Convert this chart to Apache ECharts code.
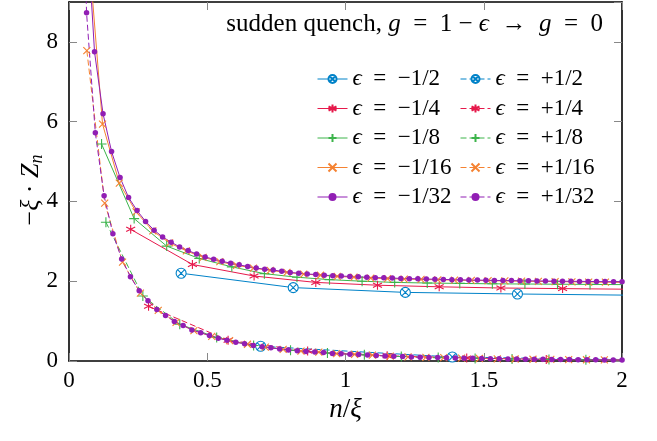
<!DOCTYPE html>
<html><head><meta charset="utf-8">
<script src="https://cdn.jsdelivr.net/npm/echarts@6/dist/echarts.min.js"></script>
<style>html,body{margin:0;padding:0;background:#fff}#c{width:657px;height:441px}</style>
</head><body><div id="c"></div>
<script>
// ---------- data ----------
const xTicks = [0, 0.5, 1, 1.5, 2];
const yTicks = [0, 2, 4, 6, 8];

// eps = -1/2 (solid) / +1/2 (dashed)
const x_m2 = [0.4055, 0.8109, 1.2164, 1.6219, 2.0273];
const y_m2 = [2.2, 1.84, 1.72, 1.68, 1.65];
const x_p2 = [0.6931, 1.3863, 2.0794];
const y_p2 = [0.37, 0.1, 0.03];

// eps = -1/4 / +1/4
const x_m4 = [0.2231, 0.4463, 0.6694, 0.8926, 1.1157, 1.3389, 1.5620, 1.7851, 2.0083];
const y_m4 = [3.3, 2.42, 2.13, 1.97, 1.9, 1.86, 1.83, 1.815, 1.8];
const x_p4 = [0.2877, 0.5754, 0.8630, 1.1507, 1.4384, 1.7261, 2.0137];
const y_p4 = [1.37, 0.52, 0.25, 0.13, 0.075, 0.04, 0.02];

// eps = -1/8 / +1/8
const x_m8 = [0.1178, 0.2356, 0.3533, 0.4711, 0.5889, 0.7067, 0.8245, 0.9422, 1.0600, 1.1778, 1.2956, 1.4133, 1.5311, 1.6489, 1.7667, 1.8845, 2.0022];
const y_m8 = [5.44, 3.57, 2.88, 2.57, 2.36, 2.19, 2.1, 2.04, 2.0, 1.97, 1.955, 1.945, 1.935, 1.93, 1.925, 1.92, 1.915];
const x_p8 = [0.1335, 0.2671, 0.4006, 0.5341, 0.6677, 0.8012, 0.9347, 1.0682, 1.2018, 1.3353, 1.4688, 1.6024, 1.7359, 1.8694, 2.0030];
const y_p8 = [3.48, 1.63, 0.92, 0.59, 0.39, 0.27, 0.2, 0.155, 0.112, 0.085, 0.065, 0.05, 0.04, 0.031, 0.025];

// eps = -1/16 / +1/16
const x_m16 = [0.0606, 0.1213, 0.1819, 0.2425, 0.3031, 0.3638, 0.4244, 0.4850, 0.5456, 0.6063, 0.6669, 0.7275, 0.7881, 0.8488, 0.9094, 0.9700, 1.0306, 1.0913, 1.1519, 1.2125, 1.2731, 1.3338, 1.3944, 1.4550, 1.5156, 1.5763, 1.6369, 1.6975, 1.7581, 1.8188, 1.8794, 1.9400, 2.0006];
const y_m16 = [11.2, 5.94, 4.46, 3.74, 3.26, 2.96, 2.76, 2.6, 2.49, 2.40, 2.33, 2.27, 2.22, 2.18, 2.15, 2.12, 2.10, 2.08, 2.065, 2.055, 2.045, 2.035, 2.028, 2.02, 2.013, 2.007, 2.0, 1.995, 1.99, 1.985, 1.98, 1.975, 1.97];
const x_p16 = [0.0645, 0.1291, 0.1936, 0.2582, 0.3227, 0.3872, 0.4518, 0.5163, 0.5809, 0.6454, 0.7099, 0.7745, 0.8390, 0.9035, 0.9681, 1.0326, 1.0972, 1.1617, 1.2262, 1.2908, 1.3553, 1.4199, 1.4844, 1.5489, 1.6135, 1.6780, 1.7426, 1.8071, 1.8716, 1.9362, 2.0007];
const y_p16 = [7.78, 3.96, 2.48, 1.70, 1.27, 0.97, 0.76, 0.62, 0.51, 0.42, 0.35, 0.29, 0.25, 0.22, 0.185, 0.165, 0.145, 0.122, 0.105, 0.092, 0.082, 0.072, 0.063, 0.056, 0.05, 0.044, 0.039, 0.035, 0.031, 0.028, 0.025];

// eps = -1/32 / +1/32
const x_m32 = [0.0308, 0.0615, 0.0923, 0.1231, 0.1539, 0.1846, 0.2154, 0.2462, 0.2769, 0.3077, 0.3385, 0.3693, 0.4000, 0.4308, 0.4616, 0.4924, 0.5231, 0.5539, 0.5847, 0.6154, 0.6462, 0.6770, 0.7078, 0.7385, 0.7693, 0.8001, 0.8308, 0.8616, 0.8924, 0.9232, 0.9539, 0.9847, 1.0155, 1.0462, 1.0770, 1.1078, 1.1386, 1.1693, 1.2001, 1.2309, 1.2617, 1.2924, 1.3232, 1.3540, 1.3847, 1.4155, 1.4463, 1.4771, 1.5078, 1.5386, 1.5694, 1.6001, 1.6309, 1.6617, 1.6925, 1.7232, 1.7540, 1.7848, 1.8155, 1.8463, 1.8771, 1.9079, 1.9386, 1.9694, 2.0002];
const y_m32 = [20.5, 11.3, 7.75, 6.2, 5.25, 4.6, 4.1, 3.77, 3.5, 3.28, 3.11, 2.98, 2.86, 2.77, 2.68, 2.61, 2.55, 2.5, 2.45, 2.41, 2.37, 2.33, 2.30, 2.28, 2.25, 2.22, 2.20, 2.18, 2.17, 2.15, 2.14, 2.13, 2.12, 2.11, 2.10, 2.09, 2.085, 2.08, 2.07, 2.065, 2.06, 2.055, 2.05, 2.045, 2.04, 2.035, 2.03, 2.028, 2.025, 2.02, 2.018, 2.015, 2.012, 2.01, 2.007, 2.005, 2.002, 2.0, 1.998, 1.996, 1.994, 1.992, 1.99, 1.988, 1.986];
const x_p32 = [0.0317, 0.0635, 0.0952, 0.1270, 0.1587, 0.1905, 0.2222, 0.2540, 0.2857, 0.3175, 0.3492, 0.3810, 0.4127, 0.4445, 0.4762, 0.5080, 0.5397, 0.5715, 0.6032, 0.6350, 0.6667, 0.6985, 0.7302, 0.7620, 0.7937, 0.8255, 0.8572, 0.8890, 0.9207, 0.9525, 0.9842, 1.0160, 1.0477, 1.0795, 1.1112, 1.1430, 1.1747, 1.2065, 1.2382, 1.2700, 1.3017, 1.3335, 1.3652, 1.3970, 1.4287, 1.4604, 1.4922, 1.5240, 1.5557, 1.5874, 1.6192, 1.6509, 1.6827, 1.7144, 1.7462, 1.7779, 1.8097, 1.8414, 1.8732, 1.9049, 1.9367, 1.9684, 2.0002];
const y_p32 = [17, 8.73, 5.72, 4.14, 3.19, 2.56, 2.11, 1.76, 1.51, 1.29, 1.14, 0.99, 0.89, 0.78, 0.71, 0.64, 0.57, 0.52, 0.47, 0.43, 0.39, 0.36, 0.33, 0.30, 0.275, 0.26, 0.24, 0.225, 0.21, 0.19, 0.18, 0.17, 0.16, 0.15, 0.14, 0.125, 0.12, 0.11, 0.10, 0.095, 0.09, 0.085, 0.08, 0.075, 0.07, 0.066, 0.062, 0.058, 0.055, 0.052, 0.049, 0.046, 0.043, 0.041, 0.039, 0.037, 0.035, 0.033, 0.031, 0.029, 0.028, 0.026, 0.025];

const negLabels = ['ϵ = −1/2', 'ϵ = −1/4', 'ϵ = −1/8', 'ϵ = −1/16', 'ϵ = −1/32'];
const posLabels = ['ϵ = +1/2', 'ϵ = +1/4', 'ϵ = +1/8', 'ϵ = +1/16', 'ϵ = +1/32'];

// ---------- styles ----------
const FONT = "'Liberation Serif','DejaVu Serif',serif";
const FS = 23;
const SP = '\u2002';  // wider math spacing around relations
const COLORS = ['#0082c8', '#e6194b', '#3cb44b', '#f58231', '#911eb4'];
const SYMBOLS = [
  'path://M10,0A10,10,0,1,1,10,20A10,10,0,1,1,10,0ZM2.93,2.93L17.07,17.07M17.07,2.93L2.93,17.07',
  'path://M10,0L10,20M1.34,5L18.66,15M1.34,15L18.66,5',
  'path://M10,0L10,20M0,10L20,10',
  'path://M0,0L20,20M20,0L0,20',
  'circle'
];
const SIZES = [10, 9, 10, 7, 5.5];
const negX = [x_m2, x_m4, x_m8, x_m16, x_m32], negY = [y_m2, y_m4, y_m8, y_m16, y_m32];
const posX = [x_p2, x_p4, x_p8, x_p16, x_p32], posY = [y_p2, y_p4, y_p8, y_p16, y_p32];

function zip(xs, ys) { return xs.map((x, i) => [x, ys[i]]); }
function mk(name, xs, ys, k, dashed) {
  const c = COLORS[k];
  return {
    type: 'line', name: name, data: zip(xs, ys),
    symbol: SYMBOLS[k], symbolSize: SIZES[k], showAllSymbol: true,
    clip: true, animation: false,
    lineStyle: { color: c, width: 1, type: dashed ? [6, 3] : 'solid' },
    itemStyle: { color: k === 0 ? '#fff' : c, borderColor: c, borderWidth: k === 4 ? 0 : 1.1 },
    emphasis: { disabled: true }
  };
}
const series = [];
for (let k = 0; k < 5; k++) {
  series.push(mk(negLabels[k], negX[k], negY[k], k, false));
  series.push(mk(posLabels[k], posX[k], posY[k], k, true));
}

function legendText(n) {
  const parts = n.split(' = ');
  return '{i|ϵ}' + SP + '=' + SP + parts[1];
}
const legendBase = {
  orient: 'vertical', top: 67, padding: 0, itemWidth: 30, itemHeight: 10, itemGap: 5.5,
  selectedMode: false,
  lineStyle: { width: 1 },
  formatter: legendText,
  textStyle: { fontFamily: FONT, fontSize: 23, color: '#000', lineHeight: 24,
    rich: { i: { fontFamily: FONT, fontSize: 23, fontStyle: 'italic', lineHeight: 24 } } }
};

const axisLineStyle = { show: true, onZero: false, lineStyle: { color: '#000', width: 1.6 } };
const tickStyle = { show: true, inside: true, length: 8, lineStyle: { color: '#888', width: 1 } };
const labelStyle = { fontFamily: FONT, fontSize: FS, color: '#000' };

const chart = echarts.init(document.getElementById('c'), null, { renderer: 'canvas' });
chart.setOption({
  animation: false,
  backgroundColor: '#fff',
  grid: { left: 69, right: 35, top: 2, bottom: 80, containLabel: false, outerBoundsMode: 'none' },
  xAxis: [
    { type: 'value', min: xTicks[0], max: xTicks[xTicks.length - 1], interval: 0.5, position: 'bottom',
      axisLine: axisLineStyle, axisTick: tickStyle, splitLine: { show: false },
      axisLabel: Object.assign({ margin: 8, formatter: v => String(v) }, labelStyle),
      name: '{i|n}/{i|ξ}', nameLocation: 'middle', nameGap: 34,
      nameTextStyle: { fontFamily: FONT, fontSize: 27, color: '#000',
        rich: { i: { fontFamily: FONT, fontSize: 27, fontStyle: 'italic' } } } },
    { type: 'value', min: 0, max: 2, interval: 0.5, position: 'top',
      axisLine: axisLineStyle, axisTick: tickStyle, splitLine: { show: false }, axisLabel: { show: false } }
  ],
  yAxis: [
    { type: 'value', min: yTicks[0], max: 9, interval: 2, position: 'left',
      axisLine: axisLineStyle, axisTick: tickStyle, splitLine: { show: false },
      axisLabel: Object.assign({ margin: 11, showMaxLabel: false, formatter: v => (yTicks.indexOf(v) >= 0 ? String(v) : '') }, labelStyle) },
    { type: 'value', min: 0, max: 9, interval: 2, position: 'right',
      axisLine: axisLineStyle, axisTick: tickStyle, splitLine: { show: false }, axisLabel: { show: false } }
  ],
  legend: [
    Object.assign({ left: 317, data: negLabels }, legendBase),
    Object.assign({ left: 460, data: posLabels }, legendBase)
  ],
  graphic: [{
    type: 'text', right: 54, top: 12,
    style: { text: 'sudden quench, {i|g}' + SP + '=' + SP + '1 − {i|ϵ}' + SP + '→' + SP + '{i|g}' + SP + '=' + SP + '0',
      fontFamily: FONT, fontSize: 25, fill: '#000',
      rich: { i: { fontFamily: FONT, fontSize: 25, fontStyle: 'italic' } } }
  }, {
    type: 'text', x: 31, y: 190, rotation: Math.PI / 2,
    style: { text: '−{i|ξ} · {i|Z}{s|n}', align: 'center', verticalAlign: 'middle',
      fontFamily: FONT, fontSize: 26, fill: '#000', lineHeight: 30,
      rich: { i: { fontFamily: FONT, fontSize: 26, fontStyle: 'italic', lineHeight: 30 },
              s: { fontFamily: FONT, fontSize: 18, fontStyle: 'italic', lineHeight: 30, verticalAlign: 'bottom' } } }
  }],
  series: series
});
</script></body></html>
